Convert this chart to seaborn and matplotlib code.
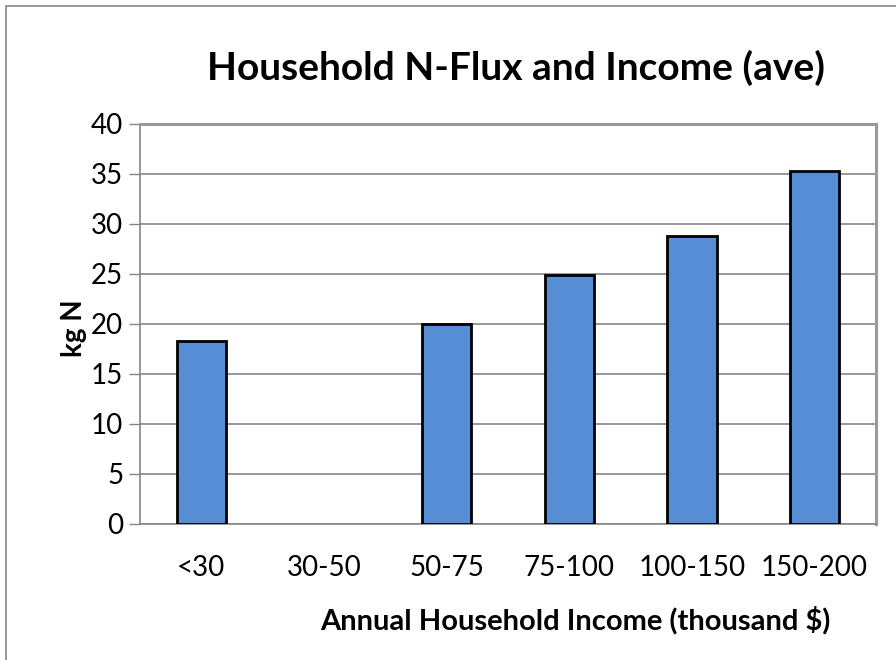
import seaborn as sns
import numpy as np
import pandas as pd
import matplotlib.pyplot as plt
from matplotlib.patches import Rectangle

income_groups = ['<30', '30-50', '50-75', '75-100', '100-150', '150-200']
n_flux = [18.3, np.nan, 20.0, 24.9, 28.8, 35.3]
y_ticks = [0, 5, 10, 15, 20, 25, 30, 35, 40]

df = pd.DataFrame({'income': income_groups, 'kgN': n_flux})

sns.set_style('white')
plt.rcParams['font.family'] = ['Lato', 'DejaVu Sans']
plt.rcParams['text.color'] = 'black'
plt.rcParams['xtick.labelcolor'] = 'black'
plt.rcParams['ytick.labelcolor'] = 'black'
plt.rcParams['axes.labelcolor'] = 'black'

fig = plt.figure(figsize=(8.96, 6.6), dpi=100)
ax = fig.add_axes([140 / 896, 136 / 660, 736 / 896, 400 / 660])

sns.barplot(data=df, x='income', y='kgN', order=income_groups,
            color='#558ED5', saturation=1, width=0.4,
            edgecolor='black', linewidth=2, errorbar=None, ax=ax, zorder=3)

ax.set_ylim(0, 40)
ax.set_xlim(-0.5, 5.5)
ax.set_yticks(y_ticks)
ax.set_yticklabels([str(t) for t in y_ticks], fontsize=20)
ax.yaxis.grid(True, color='#868686', linewidth=1.2, zorder=0)
ax.set_axisbelow(True)

# major ticks carry labels, minor ticks mark category boundaries
ax.set_xticks(range(len(income_groups)))
ax.set_xticklabels(income_groups, fontsize=20)
ax.set_xticks(np.arange(-0.5, 6.0, 1.0), minor=True)
ax.tick_params(axis='x', which='major', length=0, pad=22)
ax.tick_params(axis='x', which='minor', length=10, width=1, color='#868686', direction='out')
ax.tick_params(axis='y', length=8, width=1, color='#868686', direction='out', pad=4, left=True)

for s in ['top', 'right']:
    ax.spines[s].set_color('#9a9a9a')
    ax.spines[s].set_linewidth(2.2)
for s in ['left', 'bottom']:
    ax.spines[s].set_color('#868686')
    ax.spines[s].set_linewidth(1.2)

ax.set_xlabel('Annual Household Income (thousand $)', fontsize=21, fontweight='bold', labelpad=16)
ax.xaxis.set_label_coords(0.592, -0.205)
ax.set_ylabel('kg N', fontsize=20, fontweight='bold')
ax.yaxis.set_label_coords(-0.072, 0.49)

fig.text(0.576, 0.897, 'Household N-Flux and Income (ave)', ha='center', va='center',
         fontsize=28, fontweight='bold')

# outer chart border (Excel chart area)
fig.patches.append(Rectangle((6 / 896, -0.05), 1.2, 1 - 6 / 660 + 0.05, transform=fig.transFigure,
                             fill=False, edgecolor='#868686', linewidth=1.2))

fig.savefig('out.png', dpi=100)
